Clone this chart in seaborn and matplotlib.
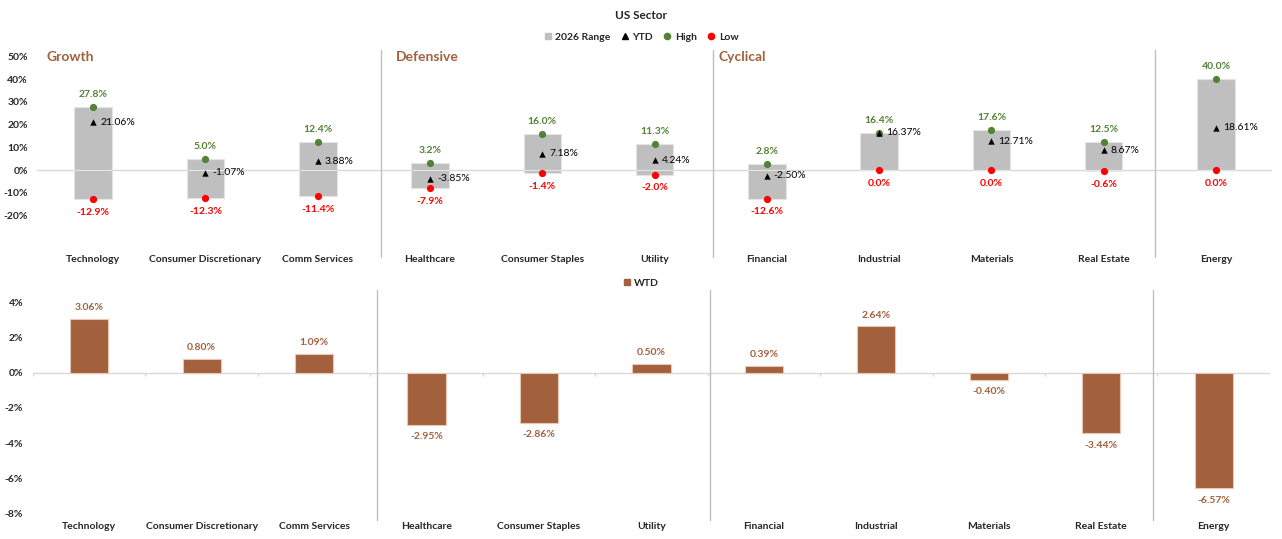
"""US sector range / weekly performance chart."""

import matplotlib
matplotlib.use("Agg")
import matplotlib.pyplot as plt
from matplotlib.lines import Line2D
from matplotlib.patches import Patch
from matplotlib.ticker import PercentFormatter
import seaborn as sns

# Data
sectors = ["Technology", "Consumer Discretionary", "Comm Services", "Healthcare",
           "Consumer Staples", "Utility", "Financial", "Industrial", "Materials",
           "Real Estate", "Energy"]
high = [0.278, 0.050, 0.124, 0.032, 0.160, 0.113, 0.028, 0.164, 0.176, 0.125, 0.400]
low = [-0.129, -0.123, -0.114, -0.079, -0.014, -0.020, -0.126, 0.0, 0.0, -0.006, 0.0]
ytd = [0.2106, -0.0107, 0.0388, -0.0385, 0.0718, 0.0424, -0.0250, 0.1637, 0.1271, 0.0867, 0.1861]
wtd = [0.0306, 0.0080, 0.0109, -0.0295, -0.0286, 0.0050, 0.0039, 0.0264, -0.0040, -0.0344, -0.0657]
groups = ["Growth", "Defensive", "Cyclical"]
group_starts = [-0.42, 2.70, 5.57]
separators = [2.56, 5.52, 9.46]

GREY = "#BFBFBF"
GREEN = "#548235"
RED = "#FF0000"
BROWN = "#A2603D"
LINE = "#D9D9D9"

sns.set_style("white")
plt.rcParams["font.family"] = ["Lato", "DejaVu Sans"]
plt.rcParams["axes.unicode_minus"] = False

fig = plt.figure(figsize=(12.82, 5.39), dpi=100)
ax1 = fig.add_axes([0.0289, 0.537, 0.9634, 0.3707])
ax2 = fig.add_axes([0.0257, 0.039, 0.9649, 0.423])

# ---- top panel: 2026 range ----
ax1.axhline(0, color=LINE, lw=1, zorder=0)
sns.barplot(x=sectors, y=high, color=GREY, width=0.334, saturation=1,
            edgecolor="#E4E4E4", linewidth=0.8, ax=ax1, zorder=1)
sns.barplot(x=sectors, y=low, color=GREY, width=0.334, saturation=1,
            edgecolor="#E4E4E4", linewidth=0.8, ax=ax1, zorder=1)
sns.stripplot(x=sectors, y=high, jitter=False, color=GREEN, size=5.2,
              linewidth=0, ax=ax1, zorder=3)
sns.stripplot(x=sectors, y=low, jitter=False, color=RED, size=5.2,
              linewidth=0, ax=ax1, zorder=3)
sns.stripplot(x=sectors, y=ytd, jitter=False, color="black", size=4.6,
              marker="^", linewidth=0, ax=ax1, zorder=3)

for i, (h, l, y) in enumerate(zip(high, low, ytd)):
    ax1.annotate(f"{h * 100:.1f}%", (i, h), xytext=(0, 9), textcoords="offset points",
                 ha="center", va="center", color=GREEN, fontsize=7.5, fontweight="bold")
    ax1.annotate(f"{l * 100:.1f}%", (i, l), xytext=(0, -9.5), textcoords="offset points",
                 ha="center", va="center", color=RED, fontsize=7.5, fontweight="bold")
    ax1.annotate(f"{y * 100:.2f}%", (i, y), xytext=(5, 0), textcoords="offset points",
                 ha="left", va="center", color="black", fontsize=7.5)

for g, xs in zip(groups, group_starts):
    ax1.text(xs, 0.50, g, color=BROWN, fontsize=10, fontweight="bold",
             ha="left", va="center")

for xs in separators:
    ax1.axvline(xs, ymin=-0.037, ymax=1.0, color=GREY, lw=1, clip_on=False, zorder=0)

ax1.set_xlim(-0.5, 10.5)
ax1.set_ylim(-0.35, 0.53)
ax1.set_yticks([-0.2, -0.1, 0, 0.1, 0.2, 0.3, 0.4, 0.5])
ax1.yaxis.set_major_formatter(PercentFormatter(1.0, decimals=0))
ax1.tick_params(axis="y", length=0, pad=6.5, labelsize=7.5)
ax1.tick_params(axis="x", length=0, pad=4, labelsize=7.5)
for lab in ax1.get_xticklabels() + ax1.get_yticklabels():
    lab.set_fontweight("bold")
sns.despine(ax=ax1, left=True, bottom=True)

# ---- bottom panel: WTD ----
ax2.axhline(0, color=LINE, lw=1, zorder=0)
sns.barplot(x=sectors, y=wtd, color=BROWN, width=0.34, saturation=1,
            edgecolor="#E8C8B4", linewidth=0.8, ax=ax2, zorder=1)
for i, v in enumerate(wtd):
    off = 8 if v >= 0 else -8.5
    ax2.annotate(f"{v * 100:.2f}%", (i, v), xytext=(0, off), textcoords="offset points",
                 ha="center", va="center", color=BROWN, fontsize=7.5, fontweight="bold")

# small tick marks on the zero line between categories
ax2.vlines([k + 0.5 for k in range(-1, 11)], -0.0017, 0, color=LINE, lw=1, zorder=0)

for xs in separators:
    ax2.axvline(xs, ymin=-0.01, ymax=1.0, color=GREY, lw=1, clip_on=False, zorder=0)

ax2.set_xlim(-0.5, 10.5)
ax2.set_ylim(-0.0825, 0.047)
ax2.set_yticks([-0.08, -0.06, -0.04, -0.02, 0, 0.02, 0.04])
ax2.yaxis.set_major_formatter(PercentFormatter(1.0, decimals=0))
ax2.tick_params(axis="y", length=0, pad=7, labelsize=7.5)
ax2.tick_params(axis="x", length=0, pad=3, labelsize=7.5)
for lab in ax2.get_xticklabels() + ax2.get_yticklabels():
    lab.set_fontweight("bold")
sns.despine(ax=ax2, left=True, bottom=True)

# ---- title and legends ----
fig.text(0.5, 0.972, "US Sector", ha="center", va="center", fontsize=8.5, fontweight="bold")

top_handles = [
    Line2D([], [], ls="none", marker="s", color=GREY, markersize=5),
    Line2D([], [], ls="none", marker="^", color="black", markersize=4.5),
    Line2D([], [], ls="none", marker="o", color=GREEN, markersize=4.5),
    Line2D([], [], ls="none", marker="o", color=RED, markersize=4.5),
]
fig.legend(top_handles, ["2026 Range", "YTD", "High", "Low"], loc="center",
           bbox_to_anchor=(0.5, 0.931), ncol=4, frameon=False, handlelength=0.8,
           handletextpad=0.3, columnspacing=1.0, prop={"size": 7.5, "weight": "bold"})
fig.legend([Line2D([], [], ls="none", marker="s", color=BROWN, markersize=5)], ["WTD"],
           loc="center", bbox_to_anchor=(0.5, 0.475), frameon=False, handlelength=0.8,
           handletextpad=0.3, prop={"size": 7.5, "weight": "bold"})

fig.savefig("out.png", dpi=100)
plt.close(fig)
